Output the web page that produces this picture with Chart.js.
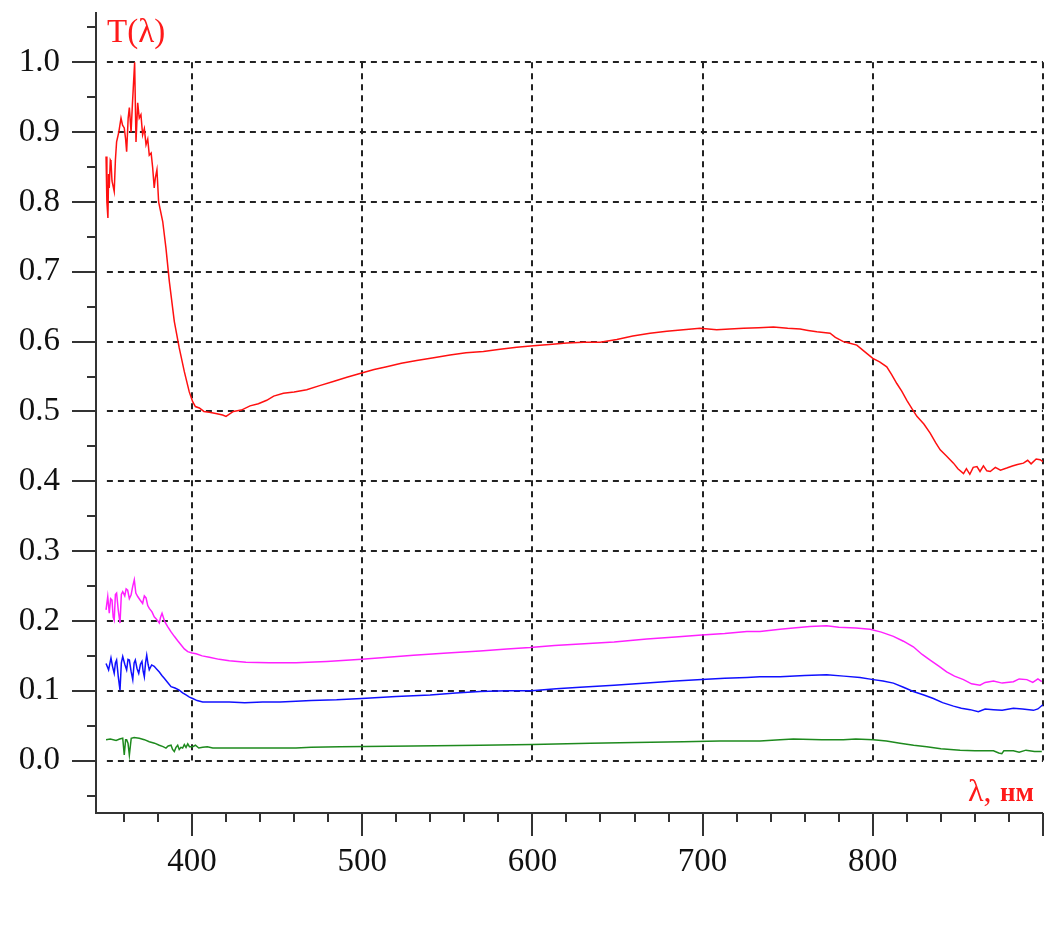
<!DOCTYPE html>
<html>
<head>
<meta charset="utf-8">
<script src="https://cdn.jsdelivr.net/npm/chart.js@4.4.1/dist/chart.umd.min.js"></script>
<style>
  body { margin: 0; background: #fff; }
  #wrap { width: 1050px; height: 928px; }
</style>
</head>
<body>
<div id="wrap"><canvas id="chart" width="1050" height="928"></canvas></div>
<script>
// wavelength (nm) / transmittance readings for each curve
const redNm = [349.5,350.0,350.6,351.0,351.4,352.0,352.4,353.0,354.3,355.0,355.7,357.0,358.3,359.2,360.2,361.0,361.6,362.5,363.2,364.2,365.0,365.5,366.3,367.1,368.1,369.0,370.0,371.0,372.0,373.0,374.0,374.9,376.0,376.9,377.8,378.5,379.4,380.4,382.8,384.7,386.7,389.6,392.5,395.5,398.4,400.4,402,404.3,407,410.2,414,418,420,424.3,429,434.1,439,443.9,448,453.7,460,467.4,475,483,491,499.7,507,514.4,523,532,542,551.6,561,571.2,581,590.8,600.6,610,620.2,630,639.8,649.6,659,669.1,679,688.7,698.5,708.3,716,724,733,741.6,750,757.3,762,767.1,771,774.9,778,782.7,786,790.6,795,800,804,808.2,811,814.1,817,820,823,825.9,830,833.7,837,839.6,843,847.4,850,853.3,855,857,859,861.2,863,865,867,869,872,875,878.7,882,885,888.5,891,893,896,898.3,900];
const redT = [0.865,0.80,0.777,0.84,0.82,0.86,0.858,0.83,0.815,0.86,0.886,0.90,0.92,0.91,0.906,0.89,0.872,0.92,0.935,0.90,0.94,0.963,1.0,0.886,0.942,0.92,0.925,0.896,0.905,0.882,0.89,0.867,0.87,0.849,0.82,0.835,0.846,0.80,0.772,0.734,0.686,0.629,0.591,0.557,0.528,0.514,0.507,0.505,0.500,0.499,0.497,0.495,0.493,0.500,0.502,0.508,0.511,0.516,0.522,0.526,0.528,0.531,0.537,0.543,0.549,0.555,0.560,0.564,0.569,0.573,0.577,0.581,0.584,0.586,0.589,0.592,0.594,0.596,0.598,0.599,0.599,0.603,0.608,0.612,0.615,0.617,0.619,0.617,0.618,0.619,0.620,0.621,0.619,0.618,0.616,0.614,0.613,0.612,0.606,0.600,0.598,0.595,0.586,0.576,0.571,0.564,0.553,0.540,0.529,0.516,0.504,0.493,0.482,0.469,0.455,0.445,0.437,0.426,0.418,0.411,0.418,0.410,0.420,0.421,0.414,0.422,0.415,0.414,0.420,0.416,0.419,0.422,0.424,0.426,0.430,0.425,0.432,0.431,0.428];

const pinkNm = [349.5,350.5,351.4,352.2,353,353.7,354.3,355,355.7,356.7,357.7,358.5,359.3,360.5,361.3,362.2,363.2,364.2,365.2,366.1,367,368.1,369.5,371,372,373,374,374.9,376.5,377.8,379,380.8,381.5,382.4,384,385.7,387.5,389.6,391.5,393.5,395.5,397.5,400,402.4,406,410.2,416,421.9,431.7,445.4,461.1,479.2,499.7,515,530.1,550,569.2,585,598.6,613,628,648,667.2,684,699.5,713,726,733.7,745.5,753.3,763,772.9,780,790,798.4,805,812.1,818,823.8,829,833.7,839,843.4,848,853.3,858,863,866,870.9,876,882.6,886,890.5,894,897,899.3];
const pinkT = [0.216,0.235,0.211,0.232,0.230,0.205,0.201,0.238,0.240,0.215,0.197,0.238,0.242,0.236,0.246,0.244,0.232,0.237,0.250,0.259,0.240,0.235,0.230,0.225,0.236,0.233,0.222,0.218,0.213,0.206,0.203,0.197,0.205,0.211,0.199,0.192,0.185,0.178,0.172,0.166,0.160,0.156,0.154,0.153,0.150,0.148,0.145,0.143,0.141,0.140,0.140,0.142,0.145,0.148,0.151,0.154,0.157,0.160,0.162,0.165,0.167,0.170,0.174,0.177,0.180,0.182,0.185,0.185,0.188,0.190,0.192,0.193,0.191,0.190,0.188,0.184,0.178,0.171,0.163,0.152,0.144,0.135,0.127,0.121,0.116,0.110,0.108,0.112,0.114,0.111,0.113,0.117,0.116,0.112,0.117,0.113];

const blueNm = [349.5,351,352.4,353.3,354.3,355,355.7,356.7,357.7,358.5,359.3,360.5,361.6,362.4,363.2,364.2,365.2,366,366.7,367.7,368.7,369.7,370.6,371.3,372,372.7,373.4,374.2,374.9,376.3,377.8,379.3,380.8,382.3,383.7,385.7,387.7,390,392.5,394.5,396.5,398.5,400.4,403,406.3,414,421.9,431,441.5,451.7,461.1,470,485,499.7,520,539.9,555,569.2,585,599.6,614,628,648,667.2,684,699.5,713,726,733.7,745.5,760,772.9,783,792.5,800.3,806,812.1,818,823.8,830,835.6,841,847.4,852,857.2,862,866,870.9,876,882.6,888,894.4,897,899.9];
const blueT = [0.139,0.130,0.147,0.135,0.125,0.140,0.144,0.120,0.101,0.140,0.149,0.138,0.130,0.145,0.144,0.128,0.116,0.140,0.144,0.132,0.125,0.138,0.142,0.128,0.120,0.140,0.151,0.138,0.130,0.137,0.135,0.131,0.127,0.122,0.118,0.112,0.106,0.104,0.101,0.097,0.094,0.091,0.089,0.086,0.084,0.084,0.084,0.083,0.084,0.084,0.085,0.086,0.087,0.089,0.092,0.094,0.097,0.099,0.100,0.100,0.103,0.105,0.108,0.111,0.114,0.116,0.118,0.119,0.120,0.120,0.122,0.123,0.121,0.119,0.116,0.114,0.111,0.105,0.099,0.094,0.089,0.083,0.078,0.075,0.073,0.070,0.074,0.073,0.072,0.075,0.074,0.072,0.074,0.080];

const greenNm = [349.5,352,355.4,357.5,359.3,360.2,361,361.6,362.4,363.2,364.3,366,369,372,374.9,378,380.8,383,384.7,386,387.7,388.6,389.6,390.6,391.6,392.5,393.5,394.5,395.5,396.5,397.5,398.5,400.4,402,404,406.3,409,412.2,430,451.7,461.1,470,487,530,569.2,600,634,660,688.7,710,733.7,745.5,753.3,770,782.7,790,800.3,808,816,824,831.7,840,851.3,860,870.9,874,875.8,877,882.6,886,890,895,899.3];
const greenT = [0.030,0.031,0.029,0.031,0.032,0.008,0.030,0.030,0.025,0.008,0.032,0.033,0.032,0.030,0.027,0.025,0.022,0.020,0.018,0.021,0.022,0.016,0.013,0.019,0.022,0.016,0.019,0.018,0.023,0.019,0.024,0.020,0.020,0.022,0.018,0.019,0.020,0.018,0.018,0.018,0.018,0.019,0.020,0.021,0.022,0.023,0.025,0.026,0.027,0.028,0.028,0.030,0.031,0.030,0.030,0.031,0.030,0.028,0.025,0.022,0.020,0.017,0.015,0.014,0.014,0.011,0.010,0.014,0.014,0.012,0.015,0.013,0.013];

const xTicks = [400, 500, 600, 700, 800];
const yTicks = [0.0, 0.1, 0.2, 0.3, 0.4, 0.5, 0.6, 0.7, 0.8, 0.9, 1.0];

function pts(xs, ys) {
  return xs.map((x, i) => ({ x: x, y: ys[i] }));
}

const SERIF = "'Liberation Serif', 'Times New Roman', serif";

// dashed grid, axis lines, major/minor tick marks and the two axis captions
const framePlugin = {
  id: "frame",
  beforeDatasetsDraw(chart) {
    const ctx = chart.ctx;
    const xs = chart.scales.x;
    const ys = chart.scales.y;
    ctx.save();
    ctx.strokeStyle = "#222";
    ctx.lineWidth = 2;
    ctx.setLineDash([6, 5]);
    const gx0 = xs.getPixelForValue(350);
    const gx1 = xs.getPixelForValue(900);
    const gy0 = ys.getPixelForValue(0);
    const gy1 = ys.getPixelForValue(1.0);
    yTicks.forEach(v => {
      const y = Math.round(ys.getPixelForValue(v));
      ctx.beginPath(); ctx.moveTo(gx0, y); ctx.lineTo(gx1, y); ctx.stroke();
    });
    xTicks.concat([900]).forEach(v => {
      const x = Math.round(xs.getPixelForValue(v));
      ctx.beginPath(); ctx.moveTo(x, gy1); ctx.lineTo(x, gy0); ctx.stroke();
    });
    ctx.restore();
  },
  afterDraw(chart) {
    const ctx = chart.ctx;
    const a = chart.chartArea;
    const xs = chart.scales.x;
    const ys = chart.scales.y;
    ctx.save();
    ctx.strokeStyle = "#333";
    ctx.lineWidth = 2;
    ctx.beginPath();
    ctx.moveTo(a.left, a.top);
    ctx.lineTo(a.left, a.bottom);
    ctx.lineTo(a.right, a.bottom);
    ctx.stroke();
    // y ticks every 0.05
    for (let k = -1; k <= 21; k++) {
      const v = k * 0.05;
      const y = Math.round(ys.getPixelForValue(v));
      const len = k % 2 === 0 ? 24 : 9;
      ctx.beginPath(); ctx.moveTo(a.left - len, y); ctx.lineTo(a.left, y); ctx.stroke();
    }
    // x ticks every 20 nm
    for (let v = 360; v <= 900; v += 20) {
      const x = Math.round(xs.getPixelForValue(v));
      const len = v % 100 === 0 ? 23 : 9;
      ctx.beginPath(); ctx.moveTo(x, a.bottom); ctx.lineTo(x, a.bottom + len); ctx.stroke();
    }
    ctx.fillStyle = "#ff1a1a";
    ctx.textBaseline = "alphabetic";
    ctx.textAlign = "left";
    ctx.font = "33px " + SERIF;
    ctx.fillText("T(λ)", 107, 42);
    ctx.font = "32px " + SERIF;
    ctx.fillText("λ,", 968, 801);
    ctx.font = "bold 27px " + SERIF;
    ctx.fillText("нм", 1000, 801);
    ctx.restore();
  }
};

const line = (label, xs, ys, color) => ({
  label: label,
  data: pts(xs, ys),
  borderColor: color,
  backgroundColor: color,
  borderWidth: 1.5,
  pointRadius: 0,
  showLine: true,
  tension: 0
});

new Chart(document.getElementById("chart").getContext("2d"), {
  type: "scatter",
  data: {
    datasets: [
      line("T1", redNm, redT, "#ff1010"),
      line("T2", pinkNm, pinkT, "#ff20ff"),
      line("T3", blueNm, blueT, "#1010ff"),
      line("T4", greenNm, greenT, "#1e8a1e")
    ]
  },
  options: {
    responsive: false,
    animation: false,
    layout: { padding: { top: 12, right: 7, left: 0, bottom: 0 } },
    plugins: { legend: { display: false }, tooltip: { enabled: false } },
    scales: {
      x: {
        type: "linear",
        min: 343.6,
        max: 900,
        grid: { display: false, drawTicks: false },
        border: { display: false },
        afterFit: s => { s.height = 115; s.paddingLeft = 0; s.paddingRight = 0; },
        ticks: {
          stepSize: 100,
          includeBounds: false,
          autoSkip: false,
          maxRotation: 0,
          padding: 30,
          color: "#111",
          font: { family: SERIF, size: 33 },
          callback: v => (xTicks.includes(v) ? String(v) : "")
        }
      },
      y: {
        type: "linear",
        min: -0.075,
        max: 1.072,
        grid: { display: false, drawTicks: false },
        border: { display: false },
        afterFit: s => { s.width = 96; s.paddingTop = 0; s.paddingBottom = 0; },
        ticks: {
          stepSize: 0.1,
          includeBounds: false,
          autoSkip: false,
          padding: 36,
          color: "#111",
          font: { family: SERIF, size: 33 },
          callback: v => (v < -0.01 || v > 1.01 ? "" : v.toFixed(1))
        }
      }
    }
  },
  plugins: [framePlugin]
});
</script>
</body>
</html>
